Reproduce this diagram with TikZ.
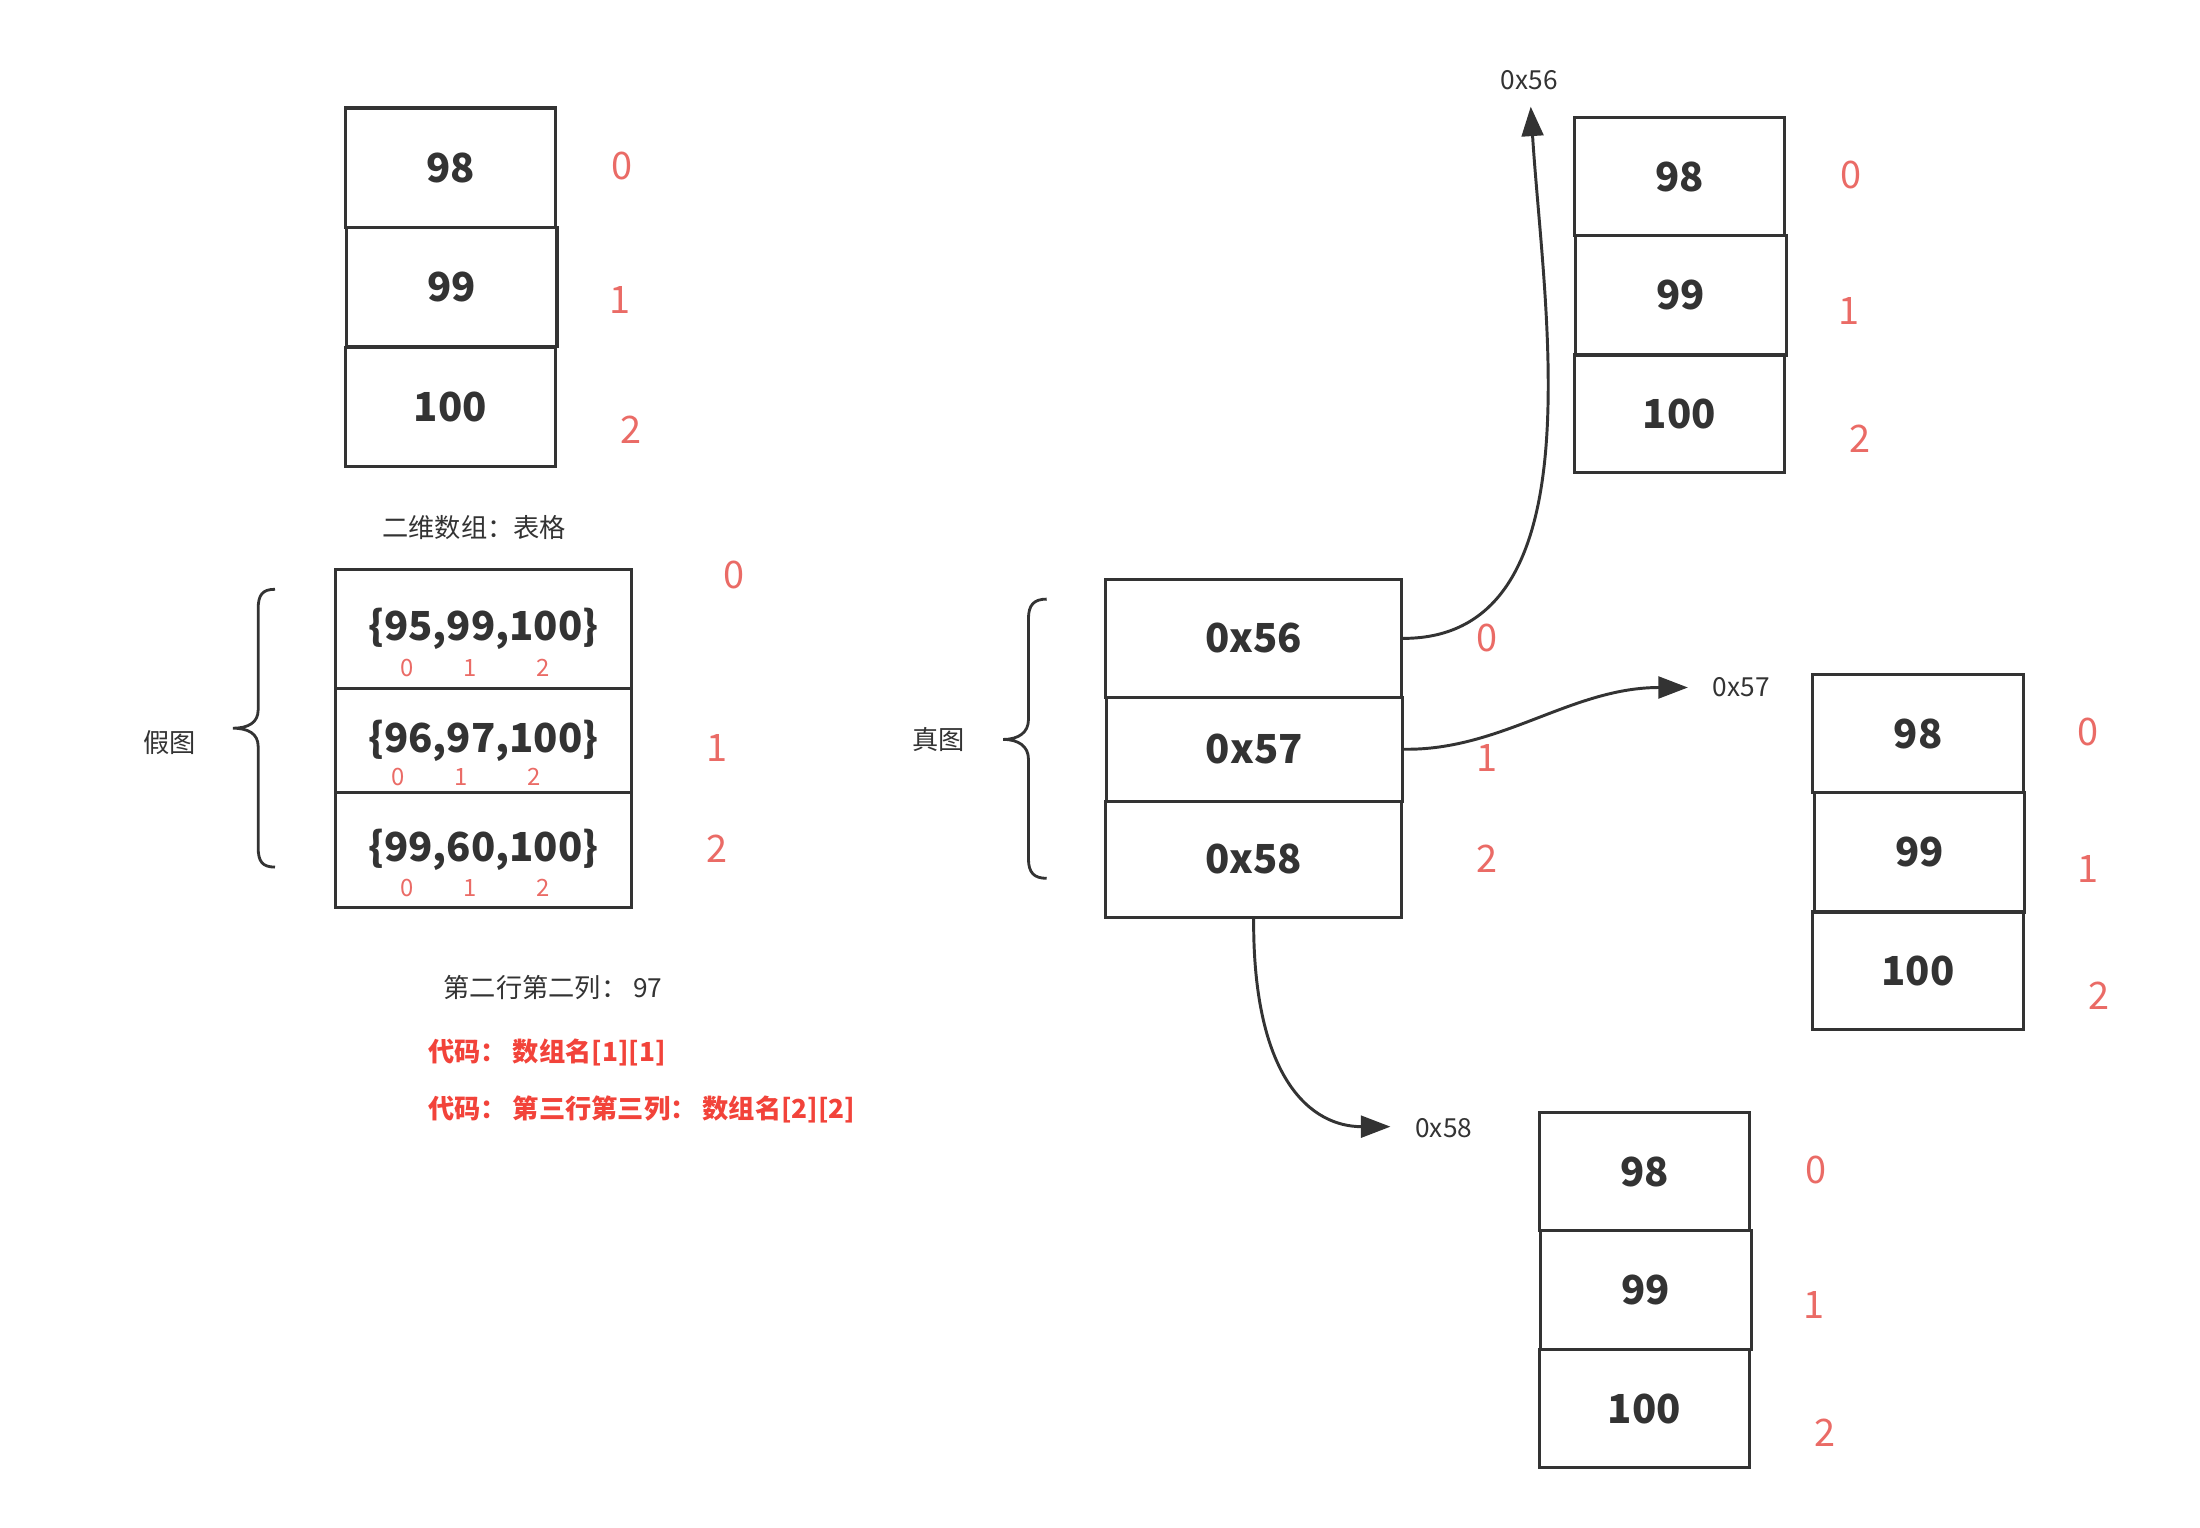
\documentclass[tikz,border=0pt]{standalone}
\usepackage{fontspec}
\setmainfont{Noto Sans CJK SC}
\usetikzlibrary{arrows.meta}
\definecolor{dk}{HTML}{333333}
\definecolor{idx}{HTML}{EA6B66}
\definecolor{codered}{HTML}{F2433A}
\begin{document}
\begin{tikzpicture}[x=1pt,y=-1pt,
  cell/.style={draw=dk, line width=2.2pt, minimum width=150pt, minimum height=85pt, inner sep=0pt, text=dk, font=\fontsize{28.5}{30}\selectfont\bfseries},
  wcell/.style={cell, minimum width=211pt},
  idxlbl/.style={text=idx, inner sep=0pt, font=\fontsize{27}{30}\selectfont},
  sidx/.style={text=idx, inner sep=0pt, font=\fontsize{17}{18}\selectfont},
  note/.style={text=dk, inner sep=0pt, font=\fontsize{18.7}{20}\selectfont},
  codetxt/.style={text=codered, inner sep=0pt, anchor=west, font=\fontsize{18.7}{20}\selectfont\bfseries},
  bracestyle/.style={draw=dk, line width=2pt},
  conn/.style={draw=dk, line width=2.1pt, -{Triangle[length=21pt,width=15.5pt]}},
]
\useasboundingbox (0,0) rectangle (1568,1089);

% ---------- top-left array ----------
\node[cell] (a1) at (321,119.5) {98};
\node[cell] (a2) at (322,204.5) {99};
\node[cell] (a3) at (321,290) {100};
\node[idxlbl] (a1i) at (443,118) {0};
\node[idxlbl] (a2i) at (442,214) {1};
\node[idxlbl] (a3i) at (450,306) {2};
\node[note] (cap) at (338,376) {二维数组：表格};

% ---------- fake 2D array ----------
\node[wcell, minimum height=85pt] (f1) at (344.5,448.5) {\{95,99,100\}};
\node[wcell, minimum height=74pt] (f2) at (344.5,528) {\{96,97,100\}};
\node[wcell, minimum height=82pt] (f3) at (344.5,606) {\{99,60,100\}};
\node[sidx] (f1a) at (290,476) {0};
\node[sidx] (f1b) at (335,476) {1};
\node[sidx] (f1c) at (387,476) {2};
\node[sidx] (f2a) at (284,554) {0};
\node[sidx] (f2b) at (329,554) {1};
\node[sidx] (f2c) at (381,554) {2};
\node[sidx] (f3a) at (290,633) {0};
\node[sidx] (f3b) at (335,633) {1};
\node[sidx] (f3c) at (387,633) {2};
\node[idxlbl] (f1i) at (523,410) {0};
\node[idxlbl] (f2i) at (511,533) {1};
\node[idxlbl] (f3i) at (511,605) {2};
\draw[bracestyle] (196,420) .. controls (187,420) and (184,424) .. (184,434) -- (184,506)
  .. controls (184,515) and (177,519) .. (166,519)
  .. controls (177,519) and (184,523) .. (184,532) -- (184,604)
  .. controls (184,614) and (187,618) .. (196,618);
\node[note] (fake) at (121,529) {假图};

\node[note, anchor=west] (n1) at (316,704) {第二行第二列：\ 97};
\node[codetxt] (n2) at (305,750) {代码：\ 数组名[1][1]};
\node[codetxt] (n3) at (305,791) {代码：\ 第三行第三列：\ 数组名[2][2]};

% ---------- real 2D array ----------
\draw[bracestyle] (746,427) .. controls (737,427) and (733,431) .. (733,441) -- (733,513)
  .. controls (733,522) and (726,527) .. (715,527)
  .. controls (726,527) and (733,532) .. (733,541) -- (733,612)
  .. controls (733,622) and (737,626) .. (746,626);
\node[note] (real) at (669,527) {真图};
\node[wcell, minimum height=84pt] (c56) at (893.5,455) {0x56};
\node[wcell, minimum height=74pt] (c57) at (894,534) {0x57};
\node[wcell, minimum height=83pt] (c58) at (893.5,612.5) {0x58};
\node[idxlbl] (c56i) at (1060,455) {0};
\node[idxlbl] (c57i) at (1060,540) {1};
\node[idxlbl] (c58i) at (1060,612) {2};

% ---------- pointed-to arrays ----------
\node[cell, minimum height=84pt] (t1) at (1197,126) {98};
\node[cell] (t2) at (1198,210.5) {99};
\node[cell, minimum height=84pt] (t3) at (1197,295) {100};
\node[idxlbl] (t1i) at (1319,125) {0};
\node[idxlbl] (t2i) at (1318,222) {1};
\node[idxlbl] (t3i) at (1326,313) {2};

\node[cell, minimum height=84pt] (m1) at (1367,523) {98};
\node[cell] (m2) at (1368,607.5) {99};
\node[cell, minimum height=84pt] (m3) at (1367,692) {100};
\node[idxlbl] (m1i) at (1488,522) {0};
\node[idxlbl] (m2i) at (1488,619) {1};
\node[idxlbl] (m3i) at (1496,710) {2};

\node[cell, minimum height=84pt] (b1) at (1172,835) {98};
\node[cell] (b2) at (1173,919.5) {99};
\node[cell, minimum height=84pt] (b3) at (1172,1004) {100};
\node[idxlbl] (b1i) at (1294,834) {0};
\node[idxlbl] (b2i) at (1293,930) {1};
\node[idxlbl] (b3i) at (1301,1021) {2};

% ---------- pointers ----------
\node[note] (l56) at (1090,57) {0x56};
\node[note] (l57) at (1241,490) {0x57};
\node[note] (l58) at (1029,804) {0x58};
\coordinate (p56) at (1091,76);
\coordinate (p57) at (1203,490);
\coordinate (p58) at (991,803);
\draw[conn] (c56.east) .. controls (1140,455) and (1100,220) .. (p56);
\draw[conn] (c57.east) .. controls (1070,535) and (1120,490) .. (p57);
\draw[conn] (c58.south) .. controls (893,770) and (935,803) .. (p58);
\end{tikzpicture}
\end{document}
